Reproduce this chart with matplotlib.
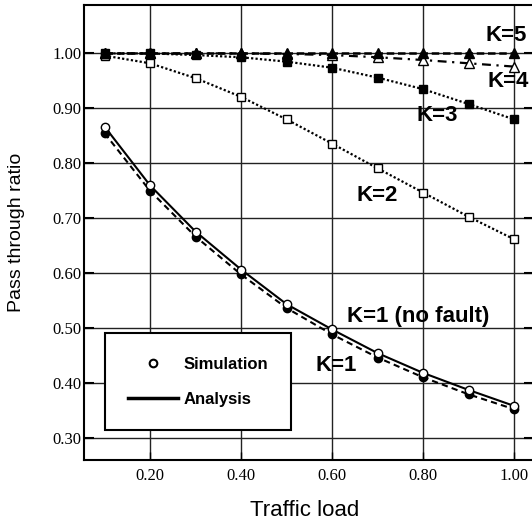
import matplotlib
matplotlib.use("Agg")
import matplotlib.pyplot as plt
from matplotlib.lines import Line2D

# ============================================================
# DATA
# ============================================================

load = [0.1, 0.2, 0.3, 0.4, 0.5, 0.6, 0.7, 0.8, 0.9, 1.0]

k5 = [1.000, 1.000, 1.000, 1.000, 1.000, 1.000, 1.000, 1.000, 1.000, 1.000]
k4 = [1.000, 1.000, 1.000, 1.000, 0.999, 0.997, 0.993, 0.988, 0.982, 0.976]
k3 = [1.000, 1.000, 0.997, 0.993, 0.985, 0.974, 0.956, 0.935, 0.908, 0.880]
k2 = [0.996, 0.982, 0.955, 0.921, 0.880, 0.836, 0.791, 0.747, 0.703, 0.662]
k1_nofault = [0.867, 0.760, 0.676, 0.607, 0.544, 0.498, 0.455, 0.419, 0.388, 0.359]
k1 = [0.855, 0.750, 0.667, 0.598, 0.537, 0.489, 0.447, 0.411, 0.380, 0.353]

x_ticks = [0.2, 0.4, 0.6, 0.8, 1.0]
y_ticks = [0.3, 0.4, 0.5, 0.6, 0.7, 0.8, 0.9, 1.0]

curve_labels = ["K=5", "K=4", "K=3", "K=2", "K=1 (no fault)", "K=1"]
label_x = [0.982, 0.987, 0.831, 0.699, 0.790, 0.608]
label_y = [1.033, 0.948, 0.887, 0.742, 0.521, 0.433]

legend_labels = ["Simulation", "Analysis"]

# ============================================================
# PLOT
# ============================================================

fig = plt.figure(figsize=(5.32, 5.22), dpi=100)
ax = fig.add_axes([0.158, 0.1197, 0.846, 0.8707])

ax.set_xlim(0.055, 1.044)
ax.set_ylim(0.2615, 1.088)

ax.grid(True, color='#222222', linewidth=1.0)
ax.set_axisbelow(True)

ax.plot(load, k3, linestyle=(0, (1, 1)), lw=1.6, color='black',
        marker='s', ms=6, mfc='black', mec='black')
ax.plot(load, k2, linestyle=(0, (1, 1)), lw=1.6, color='black',
        marker='s', ms=6, mfc='white', mec='black', mew=1.0)
ax.plot(load, k4, linestyle=(0, (4, 2.5, 1, 2.5)), lw=1.6, color='black',
        marker='^', ms=6.5, mfc='white', mec='black', mew=1.0)
ax.plot(load, k5, linestyle=(0, (3, 1.5)), lw=1.8, color='black',
        marker='^', ms=6.5, mfc='black', mec='black')
ax.plot(load, k1, linestyle=(0, (3, 2)), lw=1.5, color='black',
        marker='o', ms=6, mfc='black', mec='black')
ax.plot(load, k1_nofault, linestyle='-', lw=1.5, color='black',
        marker='o', ms=6, mfc='white', mec='black', mew=1.0)

for txt, tx, ty in zip(curve_labels, label_x, label_y):
    ax.text(tx, ty, txt, ha='center', va='center', fontsize=16,
            fontweight='bold', family='Liberation Sans')

ax.set_xticks(x_ticks)
ax.set_yticks(y_ticks)
ax.set_xticklabels([f"{v:.2f}" for v in x_ticks], family='Liberation Serif', fontsize=12)
ax.set_yticklabels([f"{v:.2f}" for v in y_ticks], family='Liberation Serif', fontsize=12)
ax.tick_params(axis='y', direction='in', length=7.5, width=1.5, pad=2,
               left=True, right=True)
ax.tick_params(axis='x', direction='in', length=6, width=1.0, pad=6)

for s in ax.spines.values():
    s.set_linewidth(1.5)

ax.set_xlabel('Traffic load', family='Liberation Sans', fontsize=16)
ax.set_ylabel('Pass through ratio', family='Liberation Sans', fontsize=14)
ax.xaxis.set_label_coords(0.491, -0.088)
ax.yaxis.set_label_coords(-0.131, 0.5)

handles = [
    Line2D([], [], linestyle='none', marker='o', ms=5.5, mfc='white', mec='black', mew=1.5),
    Line2D([], [], color='black', lw=2.5),
]
leg = ax.legend(handles, legend_labels, loc='lower left',
                bbox_to_anchor=(0.101, 0.315), bbox_transform=ax.transData,
                borderaxespad=0, frameon=True, fancybox=False, framealpha=1,
                edgecolor='black', handlelength=3.0, handletextpad=0.3,
                borderpad=1.4, labelspacing=1.2,
                prop={'family': 'Liberation Sans', 'weight': 'bold', 'size': 12})
leg.get_frame().set_linewidth(1.5)

fig.savefig('out.png', dpi=100)
